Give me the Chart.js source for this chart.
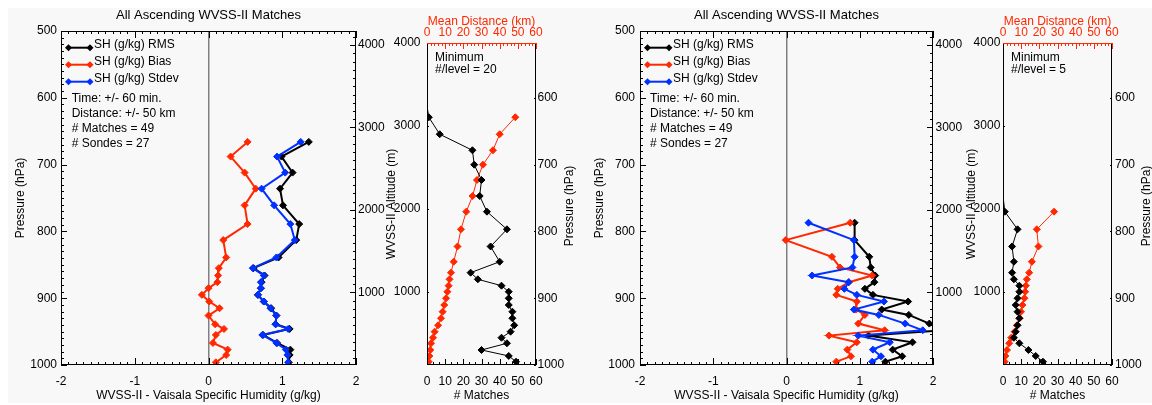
<!DOCTYPE html>
<html>
<head>
<meta charset="utf-8">
<title>WVSS-II vs Vaisala</title>
<script src="https://cdn.jsdelivr.net/npm/chart.js@4.4.1/dist/chart.umd.min.js"></script>
<style>
  html, body { margin: 0; padding: 0; background: #fff; }
  #page { position: relative; width: 1152px; height: 405px; overflow: hidden; }
  #bg { position: absolute; left: 8px; top: 8px; right: 0; bottom: 2px; background: #f8f8f8; }
  canvas { position: absolute; top: 0; }
</style>
</head>
<body>
<div id="page">
  <div id="bg"></div>
  <canvas id="profA" width="390" height="405" style="left:0px"></canvas>
  <canvas id="countA" width="210" height="405" style="left:380px"></canvas>
  <canvas id="profB" width="385" height="405" style="left:580px"></canvas>
  <canvas id="countB" width="197" height="405" style="left:955px"></canvas>
</div>
<script>
// ---- tick labels ----
const humTicks = [-2, -1, 0, 1, 2];
const presTicks = [500, 600, 700, 800, 900, 1000];
const altTicks = [1000, 2000, 3000, 4000];
const countTicks = [0, 10, 20, 30, 40, 50, 60];

// ---- left profile (min 20 matches / level), pressure levels in hPa ----
const presA  = [666, 688, 712, 736, 761, 789, 813, 839, 855, 866, 876, 885, 895, 905, 915, 926, 939, 946, 955, 967, 977, 985, 996];
const rmsA   = [1.36, 0.99, 1.14, 0.97, 1.01, 1.23, 1.19, 0.95, 0.61, 0.76, 0.72, 0.71, 0.67, 0.75, 0.85, 0.92, 0.91, 1.10, 0.74, 0.93, 1.11, 1.10, 1.09];
const biasA  = [0.53, 0.30, 0.49, 0.64, 0.49, 0.53, 0.20, 0.24, 0.14, 0.13, 0.12, 0.00, -0.09, 0.01, 0.15, 0.00, 0.09, 0.21, 0.10, 0.06, 0.26, 0.24, 0.10];
const stdevA = [1.25, 0.93, 1.04, 0.72, 0.89, 1.11, 1.17, 0.92, 0.60, 0.75, 0.71, 0.71, 0.67, 0.75, 0.84, 0.92, 0.91, 1.08, 0.73, 0.92, 1.05, 1.07, 1.08];

// ---- right profile (min 5 matches / level) ----
const presB  = [787, 813, 838, 854, 866, 876, 886, 895, 905, 917, 925, 938, 948, 956, 966, 977, 987, 995];
const rmsB   = [0.93, 0.93, 1.13, 1.15, 1.21, 1.20, 1.07, 1.18, 1.66, 1.30, 1.67, 1.95, 2.15, 1.12, 1.72, 1.45, 1.58, 1.35];
const biasB  = [0.87, -0.01, 0.62, 0.73, 1.17, 0.85, 0.70, 0.68, 0.96, 0.95, 1.07, 0.98, 1.34, 0.58, 0.96, 0.83, 0.88, 0.68];
const stdevB = [0.30, 0.92, 0.93, 0.90, 0.35, 0.85, 0.79, 0.96, 1.33, 0.92, 1.26, 1.62, 1.86, 0.98, 1.41, 1.18, 1.29, 1.17];

// ---- match counts / mean distance by WVSS-II altitude (m) ----
const altLevels = [3240, 3104, 2899, 2706, 2532, 2347, 2154, 1965, 1752, 1545, 1361, 1229, 1149, 1072, 999, 920, 839, 758, 679, 594, 517, 444, 377, 296, 224, 155];
const countA = [0, 1, 7, 25, 26, 30, 29, 33, 44, 35, 40, 24, 28, 41, 45, 45, 45, 47, 47, 48, 46, 41, 44, 30, 45, 49];
const distA  = [null, 48.6, 40.0, 36.3, 30.8, 27.5, 25.1, 21.6, 18.7, 16.8, 14.7, 13.2, 12.4, 11.9, 11.2, 10.5, 9.5, 8.6, 7.7, 6.1, 4.2, 3.3, 2.2, 1.8, 1.3, 0.9];
const countB = [0, 0, 0, 0, 0, 0, 0, 1, 8, 5, 6, 5, 6, 9, 9, 8, 7, 8, 9, 8, 7, 6, 9, 14, 18, 22];
const distB  = [null, null, null, null, null, null, null, 28.1, 18.6, 19.5, 15.9, 14.4, 13.1, 12.6, 12.2, 11.8, 10.7, 9.9, 9.1, 7.7, 6.4, 4.5, 3.4, 2.2, 1.3, 0.9];

Chart.defaults.font.family = '"Liberation Sans", Arial, sans-serif';
Chart.defaults.font.size = 12;
Chart.defaults.color = '#000';

const RED = 'rgb(255,40,0)';
const BLUE = 'rgb(0,48,255)';
const TXT = '12px "Liberation Sans", Arial, sans-serif';

// tick spacing for the IDL-like inward ticks, per canvas
const PROFILE_TICKS = [
    {id: 'x', major: 1, minor: 0.1, mirror: true},
    {id: 'y', major: 100, minor: 10},
    {id: 'y2', major: 1000, minor: 100}
];
const COUNT_TICKS = [
    {id: 'x', major: 10, minor: 10 / 3},
    {id: 'x2', major: 10, minor: 2, color: RED},
    {id: 'y', major: 1000, minor: 100},
    {id: 'y2', major: 100, minor: 10}
];
const tickSpecs = {profA: PROFILE_TICKS, profB: PROFILE_TICKS, countA: COUNT_TICKS, countB: COUNT_TICKS};

function pts(xs, ys) { return xs.map((x, i) => ({x: x, y: ys[i]})); }
function fixW(w) { return s => { s.width = w; }; }
function fixH(h) { return s => { s.height = h; }; }
function useTicks(list) {
    return s => { s.ticks = list.filter(v => v >= s.min - 1e-9 && v <= s.max + 1e-9).map(v => ({value: v})); };
}
const plain = v => String(v);
function diamond(ctx, x, y, r) {
    ctx.beginPath();
    ctx.moveTo(x, y - r); ctx.lineTo(x + r, y); ctx.lineTo(x, y + r); ctx.lineTo(x - r, y);
    ctx.closePath();
    ctx.fill();
}

// inward major/minor ticks, drawn as 1px filled bars from the scale positions
function drawTicks(chart) {
    const ctx = chart.ctx;
    const a = chart.chartArea;
    const opp = {left: 'right', right: 'left', top: 'bottom', bottom: 'top'};
    const specs = tickSpecs[chart.canvas.id] || [];
    for (const ax of specs) {
        const s = chart.scales[ax.id];
        if (!s) continue;
        const side0 = s.options.position;
        const horiz = side0 === 'top' || side0 === 'bottom';
        const len = 0.02 * (horiz ? a.bottom - a.top : a.right - a.left);
        const sides = ax.mirror ? [side0, opp[side0]] : [side0];
        const per = Math.round(ax.major / ax.minor);
        const n0 = Math.ceil(s.min / ax.minor - 1e-6);
        const n1 = Math.floor(s.max / ax.minor + 1e-6);
        ctx.fillStyle = ax.color || '#000';
        for (let n = n0; n <= n1; n++) {
            const p = Math.round(s.getPixelForValue(n * ax.minor));
            const l = Math.round((Math.abs(n % per) < 1e-9) ? len : len / 2);
            for (const side of sides) {
                if (side === 'bottom') ctx.fillRect(p, a.bottom - l, 1, l);
                if (side === 'top') ctx.fillRect(p, a.top, 1, l);
                if (side === 'left') ctx.fillRect(a.left, p, l, 1);
                if (side === 'right') ctx.fillRect(a.right - l, p, l, 1);
            }
        }
    }
}

// IDL style box: frame, ticks, legend and notes
const idlFrame = {
    id: 'idlFrame',
    afterDraw(chart, args, o) {
        const {ctx, chartArea: a} = chart;
        ctx.save();
        drawTicks(chart);
        const L = Math.round(a.left), R = Math.round(a.right) - 1, T = Math.round(a.top), B = Math.round(a.bottom) - 1;
        ctx.fillStyle = '#000';
        ctx.fillRect(L, T, 1, B - T + 1);
        ctx.fillRect(R, T, 1, B - T + 1);
        ctx.fillRect(L, B, R - L + 1, 1);
        ctx.fillStyle = o.topColor || '#000';
        ctx.fillRect(L, T, R - L + 1, 1);

        ctx.font = TXT;
        ctx.textBaseline = 'middle';
        ctx.textAlign = 'left';
        if (o.legend) {
            chart.data.datasets.forEach((ds, i) => {
                const y = a.top + 16.7 + i * 17;
                ctx.strokeStyle = ds.borderColor;
                ctx.fillStyle = ds.borderColor;
                ctx.lineWidth = 2;
                ctx.beginPath();
                ctx.moveTo(a.left + 7.5, y); ctx.lineTo(a.left + 29, y);
                ctx.stroke();
                diamond(ctx, a.left + 7.5, y, 3.5);
                diamond(ctx, a.left + 29, y, 3.5);
                ctx.fillStyle = '#000';
                ctx.fillText(ds.label, a.left + 33, y - 3);
            });
        }
        ctx.fillStyle = '#000';
        (o.notes || []).forEach((t, i) => {
            ctx.fillText(t, a.left + o.noteX, a.top + o.noteY + i * o.noteStep);
        });
        if (o.rightTitle) {
            ctx.translate(a.right + o.rightTitleDx, (a.top + a.bottom) / 2 + 2);
            ctx.rotate(-Math.PI / 2);
            ctx.textAlign = 'center';
            ctx.fillText(o.rightTitle, 0, 0);
        }
        ctx.restore();
    }
};

function series(label, data, color, width, order, radius) {
    return {
        label: label,
        data: data,
        order: order,
        showLine: true,
        borderColor: color,
        backgroundColor: color,
        pointBackgroundColor: color,
        pointBorderColor: color,
        borderWidth: width,
        pointBorderWidth: 1,
        pointStyle: 'rectRot',
        pointRadius: radius,
        tension: 0
    };
}

function makeProfile(id, lev, rms, bias, sd, box) {
    return new Chart(document.getElementById(id), {
        type: 'scatter',
        data: {
            datasets: [
                series('SH (g/kg) RMS', pts(rms, lev), '#000', 2, 3, 3.5),
                series('SH (g/kg) Bias', pts(bias, lev), RED, 2, 2, 3.5),
                series('SH (g/kg) Stdev', pts(sd, lev), BLUE, 2, 1, 3.5)
            ]
        },
        options: {
            responsive: false,
            animation: false,
            events: [],
            layout: {padding: 0},
            scales: {
                x: {
                    type: 'linear', position: 'bottom', min: -2, max: 2,
                    afterBuildTicks: useTicks(humTicks), afterFit: fixH(40),
                    grid: {drawTicks: false, lineWidth: 1.5,
                           color: c => (c.tick && c.tick.value === 0) ? '#808080' : 'rgba(0,0,0,0)'},
                    border: {display: false},
                    ticks: {padding: 9, maxRotation: 0, autoSkip: false, callback: plain},
                    title: {display: true, text: 'WVSS-II - Vaisala Specific Humidity (g/kg)', padding: {top: 0, bottom: 2}}
                },
                y: {
                    type: 'linear', position: 'left', reverse: true, min: 500, max: 1000,
                    afterBuildTicks: useTicks(presTicks), afterFit: fixW(box.left),
                    grid: {display: false, drawTicks: false},
                    border: {display: false},
                    ticks: {padding: box.labelPad, autoSkip: false, callback: plain},
                    title: {display: true, text: 'Pressure (hPa)', padding: {top: box.titlePad, bottom: 0}}
                },
                y2: {
                    type: 'linear', position: 'right', min: 120, max: 4170,
                    afterBuildTicks: useTicks(altTicks), afterFit: fixW(box.right),
                    grid: {display: false, drawTicks: false},
                    border: {display: false},
                    ticks: {padding: box.rightPad, autoSkip: false, callback: plain}
                }
            },
            plugins: {
                legend: {display: false},
                tooltip: {enabled: false},
                title: {
                    display: true, text: 'All Ascending WVSS-II Matches', fullSize: false,
                    font: {size: 13, weight: 'normal'}, padding: {top: 8, bottom: 7.4}
                },
                idlFrame: {
                    legend: true,
                    notes: ['Time: +/- 60 min.', 'Distance: +/- 50 km', '# Matches = 49', '# Sondes = 27'],
                    noteX: box.noteX, noteY: 68, noteStep: 15
                }
            }
        },
        plugins: [idlFrame]
    });
}

function makeCounts(id, cnt, dist, minPerLevel, box) {
    return new Chart(document.getElementById(id), {
        type: 'scatter',
        data: {
            datasets: [
                series('# Matches', pts(cnt, altLevels), '#000', 1, 1, c => (c.raw && c.raw.x === 0) ? 0 : 3.5),
                Object.assign(series('Mean Distance (km)', pts(dist, altLevels), RED, 1, 2, 3.5), {xAxisID: 'x2'})
            ]
        },
        options: {
            responsive: false,
            animation: false,
            events: [],
            layout: {padding: 0},
            scales: {
                x: {
                    type: 'linear', position: 'bottom', min: 0, max: 60,
                    afterBuildTicks: useTicks(countTicks), afterFit: fixH(40),
                    grid: {display: false, drawTicks: false},
                    border: {display: false},
                    ticks: {padding: 9, maxRotation: 0, autoSkip: false, callback: plain},
                    title: {display: true, text: '# Matches', padding: {top: 0, bottom: 2}}
                },
                x2: {
                    type: 'linear', position: 'top', min: 0, max: 60,
                    afterBuildTicks: useTicks(countTicks), afterFit: fixH(43),
                    grid: {display: false, drawTicks: false},
                    border: {display: false},
                    ticks: {padding: 3.5, maxRotation: 0, autoSkip: false, color: RED, callback: plain},
                    title: {display: true, text: 'Mean Distance (km)', color: RED, padding: {top: 14.5, bottom: 0}}
                },
                y: {
                    type: 'linear', position: 'left', min: 115, max: 4000,
                    afterBuildTicks: useTicks(altTicks), afterFit: fixW(box.left),
                    grid: {display: false, drawTicks: false},
                    border: {display: false},
                    ticks: {padding: box.labelPad, autoSkip: false, callback: plain},
                    title: {display: true, text: 'WVSS-II Altitude (m)', padding: {top: box.titlePad, bottom: 0}}
                },
                y2: {
                    type: 'linear', position: 'right', reverse: true, min: 518, max: 1000,
                    afterBuildTicks: useTicks(presTicks), afterFit: fixW(box.right),
                    grid: {display: false, drawTicks: false},
                    border: {display: false},
                    ticks: {padding: box.rightPad, autoSkip: false, callback: plain}
                }
            },
            plugins: {
                legend: {display: false},
                tooltip: {enabled: false},
                idlFrame: {
                    topColor: RED,
                    notes: ['Minimum', '#/level = ' + minPerLevel],
                    noteX: 8, noteY: 14.3, noteStep: 12.7,
                    rightTitle: 'Pressure (hPa)', rightTitleDx: box.rightTitleDx
                }
            }
        },
        plugins: [idlFrame]
    });
}

makeProfile('profA', presA, rmsA, biasA, stdevA, {left: 61, right: 34, labelPad: 4, titlePad: 13.1, rightPad: 2, noteX: 10.7});
makeCounts('countA', countA, distA, 20, {left: 47, right: 54, labelPad: 6.5, titlePad: 4.5, rightPad: 1.5, rightTitleDx: 33.7});
makeProfile('profB', presB, rmsB, biasB, stdevB, {left: 60, right: 32, labelPad: 5, titlePad: 12.8, rightPad: 2.5, noteX: 10});
makeCounts('countB', countB, distB, 5, {left: 48, right: 40, labelPad: 2.7, titlePad: 9.8, rightPad: 3, rightTitleDx: 34.5});
</script>
</body>
</html>
